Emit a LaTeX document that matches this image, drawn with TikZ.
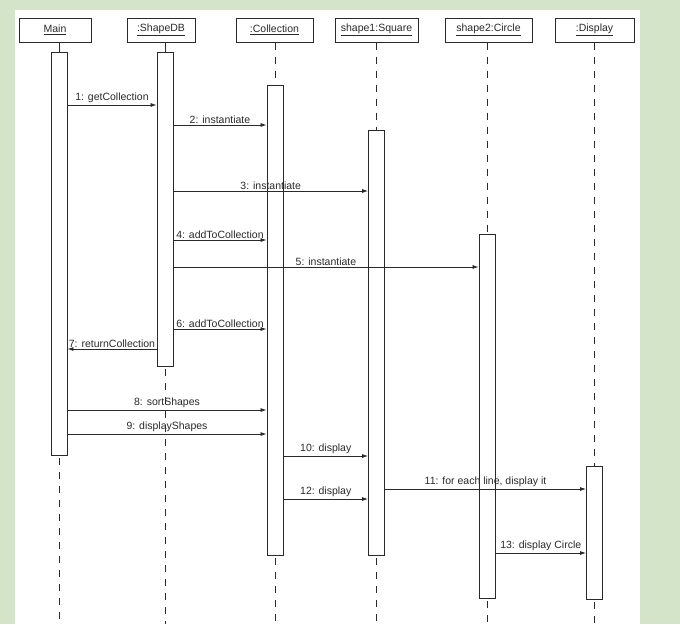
\documentclass[tikz,border=0pt]{standalone}
\usepackage{fontspec}
\setmainfont{Liberation Sans}
\usetikzlibrary{arrows.meta}
\definecolor{bggreen}{HTML}{D3E4C9}
\definecolor{ink}{HTML}{2A2A2A}
\begin{document}
\begin{tikzpicture}[x=1pt,y=-1pt,
  hdr/.style={draw=ink, line width=1pt, fill=white, minimum height=24pt, inner sep=0pt, text=ink, font=\fontsize{10.5}{12}\selectfont},
  act/.style={draw=ink, line width=0.9pt, fill=white, minimum width=16pt, inner sep=0pt},
  life/.style={draw=ink, line width=0.8pt, dash pattern=on 7pt off 7pt},
  solidlife/.style={draw=ink, line width=0.8pt},
  msg/.style={draw=ink, line width=0.8pt, -{Latex[length=6pt,width=4pt]}},
  lbl/.style={font=\fontsize{10.5}{12}\selectfont, text=ink, inner sep=1.5pt, above}
]
\useasboundingbox (0,0) rectangle (680,624);
\fill[bggreen] (0,0) rectangle (680,624);
\fill[white] (15,10) rectangle (640,624);
\coordinate (bot) at (0,624);

% headers
\node[hdr, minimum width=72pt] (hMain) at (55,30) {\underline{Main}};
\node[hdr, minimum width=68pt] (hDB) at (161,30) {\underline{:ShapeDB}};
\node[hdr, minimum width=77pt] (hColl) at (274.5,30) {\underline{:Collection}};
\node[hdr, minimum width=83pt] (hSq) at (376.5,30) {\underline{shape1:Square}};
\node[hdr, minimum width=87pt] (hCirc) at (488.5,30) {\underline{shape2:Circle}};
\node[hdr, minimum width=79pt] (hDisp) at (594.5,30) {\underline{:Display}};

% activations
\node[act, minimum height=403pt] (aMain) at (59,253.5) {};
\node[act, minimum height=314pt] (aDB) at (165,209) {};
\node[act, minimum height=470pt] (aColl) at (275,320) {};
\node[act, minimum height=425pt] (aSq) at (376.5,342.5) {};
\node[act, minimum height=364pt] (aCirc) at (487,416) {};
\node[act, minimum height=133pt] (aDisp) at (594.5,532.5) {};

% lifelines above activations
\draw[solidlife] (aMain.north |- hMain.south) -- (aMain.north);
\draw[solidlife] (aDB.north |- hDB.south) -- (aDB.north);
\draw[life] (aColl.north |- hColl.south) -- (aColl.north);
\draw[life] (aSq.north |- hSq.south) -- (aSq.north);
\draw[life] (aCirc.north |- hCirc.south) -- (aCirc.north);
\draw[life] (aDisp.north |- hDisp.south) -- (aDisp.north);

% lifelines below activations
\foreach \a in {aMain,aDB,aColl,aSq,aCirc,aDisp}{
  \draw[life] ([yshift=-3pt]\a.south) -- (\a.south |- bot);
}

% messages
\draw[msg] (aMain.east |- 0,105) -- node[lbl]{1: getCollection} (aDB.west |- 0,105);
\draw[msg] (aDB.east |- 0,125) -- node[lbl]{2: instantiate} (aColl.west |- 0,125);
\draw[msg] (aDB.east |- 0,191) -- node[lbl]{3: instantiate} (aSq.west |- 0,191);
\draw[msg] (aDB.east |- 0,240) -- node[lbl]{4: addToCollection} (aColl.west |- 0,240);
\draw[msg] (aDB.east |- 0,267) -- node[lbl]{5: instantiate} (aCirc.west |- 0,267);
\draw[msg] (aDB.east |- 0,329) -- node[lbl]{6: addToCollection} (aColl.west |- 0,329);
\draw[msg] (aDB.west |- 0,349) -- node[lbl]{7: returnCollection} (aMain.east |- 0,349);
\draw[msg] (aMain.east |- 0,410) -- node[lbl]{8: sortShapes} (aColl.west |- 0,410);
\draw[msg] (aMain.east |- 0,434) -- node[lbl]{9: displayShapes} (aColl.west |- 0,434);
\draw[msg] (aColl.east |- 0,456) -- node[lbl]{10: display} (aSq.west |- 0,456);
\draw[msg] (aSq.east |- 0,489) -- node[lbl]{11: for each line, display it} (aDisp.west |- 0,489);
\draw[msg] (aColl.east |- 0,499) -- node[lbl]{12: display} (aSq.west |- 0,499);
\draw[msg] (aCirc.east |- 0,553) -- node[lbl]{13: display Circle} (aDisp.west |- 0,553);
\end{tikzpicture}
\end{document}
